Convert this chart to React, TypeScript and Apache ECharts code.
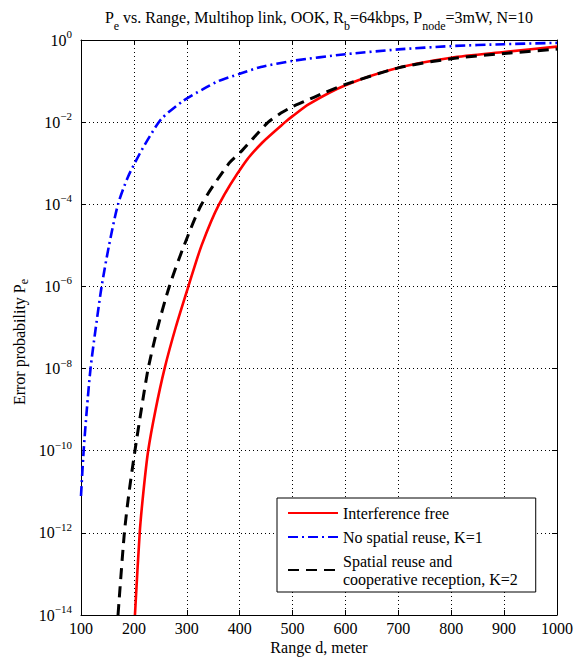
import React, { useEffect, useRef } from "react";
import * as echarts from "echarts";

// ---- data (range d in meters, error probability Pe) ----
const seriesNames = [
  "Interference free",
  "No spatial reuse, K=1",
  "Spatial reuse and\ncooperative reception, K=2",
];

const rangeRed = [202, 211, 218, 227, 241, 258, 279, 303, 328, 361, 409, 443, 486, 500, 531, 600, 700, 800, 900, 1000];
const peRed = [1e-14, 1e-12, 1e-11, 1e-10, 1e-9, 1e-8, 1e-7, 1e-6, 1e-5, 1e-4, 1e-3, 3.2e-3, 1e-2, 1.4e-2, 2.75e-2, 7.9e-2, 0.21, 0.37, 0.51, 0.69];

const rangeBlue = [100, 105, 111, 118, 128, 139, 153, 170, 189, 211, 230, 252, 293, 330, 360, 400, 440, 500, 600, 700, 800, 900, 1000];
const peBlue = [7.9e-12, 1e-10, 1e-9, 1e-8, 1e-7, 1e-6, 1e-5, 1e-4, 4.7e-4, 1.7e-3, 4.5e-3, 1.2e-2, 3.3e-2, 6.3e-2, 0.1, 0.15, 0.22, 0.31, 0.45, 0.59, 0.71, 0.79, 0.85];

const rangeBlack = [170, 182, 191, 202, 214, 227, 245, 267, 295, 328, 380, 404, 432, 454, 478, 500, 523, 560, 600, 700, 800, 900, 1000];
const peBlack = [1e-14, 1e-12, 1e-11, 1e-10, 1e-9, 1e-8, 1e-7, 1e-6, 1e-5, 1e-4, 1e-3, 2e-3, 5e-3, 1e-2, 1.66e-2, 2.4e-2, 3.2e-2, 5.2e-2, 8.3e-2, 0.21, 0.35, 0.47, 0.6];

const xMin = 100;
const xMax = 1000;
const xStep = 100;
const yMin = 1e-14;
const yMax = 1;

const FONT = "'Liberation Serif', 'DejaVu Serif', serif";

function pairs(xs: number[], ys: number[]) {
  return xs.map((x, i) => [x, ys[i]]);
}

export default function App() {
  const ref = useRef<HTMLDivElement>(null);

  useEffect(() => {
    if (!ref.current) return;
    const chart = echarts.init(ref.current, null, { renderer: "svg" });

    const gridLine = { show: true, lineStyle: { color: "#000", width: 1, type: [1, 3] as any } };
    const axisLine = { show: true, lineStyle: { color: "#000", width: 1 } };
    const tickIn = { show: true, inside: true, length: 5, lineStyle: { color: "#000", width: 1 } };

    const yLabelRich = {
      b: { fontFamily: FONT, fontSize: 16, lineHeight: 16, color: "#000" },
      s: { fontFamily: FONT, fontSize: 11, lineHeight: 11, padding: [0, 0, 12, 0], color: "#000" },
    };

    const option: any = {
      animation: false,
      backgroundColor: "#fff",
      grid: { left: 81, right: 19, top: 40, bottom: 46 },
      xAxis: [
        {
          type: "value",
          min: xMin,
          max: xMax,
          interval: xStep,
          position: "bottom",
          axisLine,
          axisTick: tickIn,
          splitLine: gridLine,
          axisLabel: {
            fontFamily: FONT,
            fontSize: 16,
            color: "#000",
            margin: 5,
            formatter: (v: number) => String(v),
          },
        },
        {
          type: "value",
          min: xMin,
          max: xMax,
          interval: xStep,
          position: "top",
          axisLine,
          axisTick: tickIn,
          splitLine: { show: false },
          axisLabel: { show: false },
        },
      ],
      yAxis: [
        {
          type: "log",
          logBase: 10,
          min: yMin,
          max: yMax,
          interval: 2,
          position: "left",
          axisLine,
          axisTick: tickIn,
          splitLine: gridLine,
          minorTick: { show: false },
          axisLabel: {
            margin: 9,
            formatter: (v: number) => {
              const e = Math.round(Math.log10(v));
              const es = e < 0 ? "\u2212" + -e : String(e);
              return "{b|10}{s|" + es + "}";
            },
            rich: yLabelRich,
          },
        },
        {
          type: "log",
          logBase: 10,
          min: yMin,
          max: yMax,
          interval: 2,
          position: "right",
          axisLine,
          axisTick: tickIn,
          splitLine: { show: false },
          axisLabel: { show: false },
        },
      ],
      legend: {
        orient: "vertical",
        left: 277,
        top: 498,
        padding: [6, 18, 4, 10],
        itemWidth: 50,
        itemHeight: 14,
        itemGap: 6,
        itemStyle: { color: "rgba(0,0,0,0)", borderColor: "rgba(0,0,0,0)", borderWidth: 0 },
        borderColor: "#000",
        borderWidth: 1,
        borderRadius: 0,
        backgroundColor: "#fff",
        selectedMode: false,
        textStyle: { fontFamily: FONT, fontSize: 16, color: "#000", lineHeight: 18 },
        data: seriesNames,
      },
      series: [
        {
          name: seriesNames[0],
          type: "line",
          data: pairs(rangeRed, peRed),
          symbol: "none",
          smooth: 0.25,
          lineStyle: { color: "#ff0000", width: 2.6, type: "solid" },
          itemStyle: { color: "#ff0000" },
          z: 3,
        },
        {
          name: seriesNames[1],
          type: "line",
          data: pairs(rangeBlue, peBlue),
          symbol: "none",
          smooth: 0.25,
          lineStyle: { color: "#0000ff", width: 2.6, type: [10, 4, 2, 4] },
          itemStyle: { color: "#0000ff" },
          z: 4,
        },
        {
          name: seriesNames[2],
          type: "line",
          data: pairs(rangeBlack, peBlack),
          symbol: "none",
          smooth: 0.25,
          lineStyle: { color: "#000000", width: 3, type: [11, 7] },
          itemStyle: { color: "#000000" },
          z: 5,
        },
      ],
      graphic: [
        {
          type: "text",
          x: 319,
          y: 17,
          style: {
            text: "{n|P}{s|e}{n| vs. Range, Multihop link, OOK, R}{s|b}{n|=64kbps, P}{s|node}{n|=3mW, N=10}",
            align: "center",
            verticalAlign: "middle",
            rich: {
              n: { fontFamily: FONT, fontSize: 16, lineHeight: 16, fill: "#000" },
              s: { fontFamily: FONT, fontSize: 12, lineHeight: 12, padding: [17, 0, 0, 0], fill: "#000" },
            },
          },
        },
        {
          type: "text",
          x: 19,
          y: 342,
          rotation: Math.PI / 2,
          style: {
            text: "{n|Error probability P}{s|e}",
            align: "center",
            verticalAlign: "middle",
            rich: {
              n: { fontFamily: FONT, fontSize: 16, lineHeight: 16, fill: "#000" },
              s: { fontFamily: FONT, fontSize: 12, lineHeight: 12, padding: [10, 0, 0, 0], fill: "#000" },
            },
          },
        },
        {
          type: "text",
          x: 319,
          y: 647,
          style: {
            text: "Range d, meter",
            align: "center",
            verticalAlign: "middle",
            fontFamily: FONT,
            fontSize: 16,
            fill: "#000",
          },
        },
      ],
    };

    chart.setOption(option);
    return () => chart.dispose();
  }, []);

  return (
    <div
      ref={ref}
      style={{ position: "fixed", left: 0, top: 0, width: 576, height: 661, background: "#fff" }}
    />
  );
}
